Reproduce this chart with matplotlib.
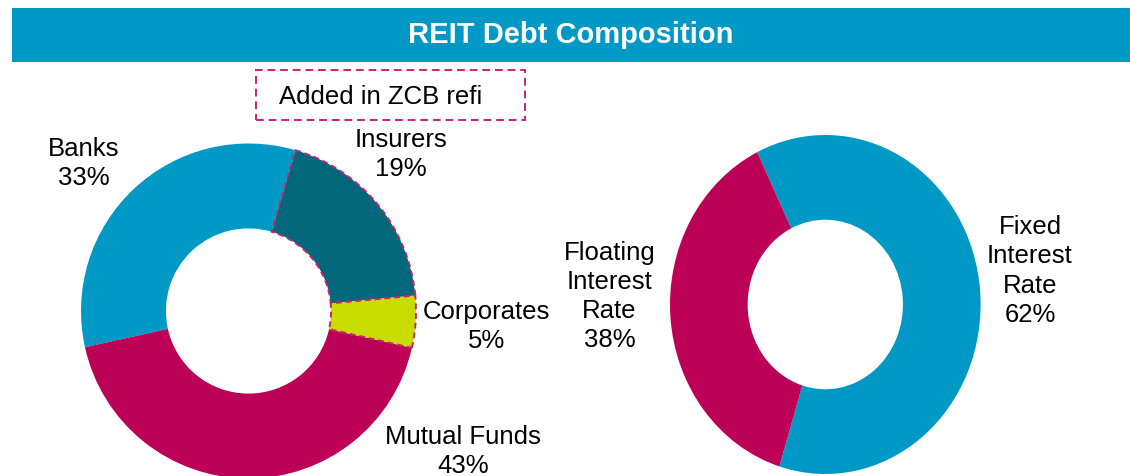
import matplotlib.pyplot as plt
from matplotlib.patches import Rectangle

plt.rcParams["font.family"] = ["Liberation Sans", "DejaVu Sans"]

W, H = 1130, 476

BLUE = "#0099c6"
MAGENTA = "#bc0058"
TEAL = "#00687a"
LIME = "#c9dc00"
DASH = "#c8246e"

title = "REIT Debt Composition"
note = "Added in ZCB refi"

lenders = ["Banks", "Insurers", "Corporates", "Mutual Funds"]
lender_share = [33, 19, 5, 43]
lender_colors = [BLUE, TEAL, LIME, MAGENTA]
lender_dashed = [False, True, True, False]
lender_label_pos = [(-0.982, 0.881), (0.910, 0.934), (1.422, -0.090), (1.281, -0.839)]

rates = ["Fixed\nInterest\nRate", "Floating\nInterest\nRate"]
rate_share = [62, 38]
rate_colors = [BLUE, MAGENTA]
rate_label_pos = [(1.318, 0.198), (-1.390, 0.046)]


def px_rect(x0, y0, x1, y1):
    # pixel box (top-left origin) -> figure fraction [l, b, w, h]
    return [x0 / W, (H - y1) / H, (x1 - x0) / W, (y1 - y0) / H]


fig = plt.figure(figsize=(W / 100, H / 100), dpi=100)

# title bar
l, b, w, h = px_rect(12, 8, W, 62)
fig.patches.append(Rectangle((l, b), w, h, transform=fig.transFigure,
                             facecolor=BLUE, edgecolor="none"))
fig.text(l + w / 2, b + h / 2, title, color="white", fontsize=21,
         fontweight="bold", ha="center", va="center")

# dashed note box
l, b, w, h = px_rect(256, 70, 525, 120)
fig.patches.append(Rectangle((l, b), w, h, transform=fig.transFigure,
                             facecolor="none", edgecolor=DASH, lw=1.4,
                             linestyle=(0, (4, 2.5))))
fig.text(381 / W, 1 - 97 / H, note, fontsize=18.5, ha="center", va="center")


def donut(rect, values, colors, start, width):
    ax = fig.add_axes(rect)
    wedges, _ = ax.pie(values, colors=colors, startangle=start,
                       counterclock=False, radius=1,
                       wedgeprops=dict(width=width, edgecolor="none"))
    ax.set_aspect("auto")
    ax.set_xlim(-1, 1)
    ax.set_ylim(-1, 1)
    ax.axis("off")
    for wg in wedges:
        wg.set_clip_on(False)
    return ax, wedges


ax1, w1 = donut(px_rect(81, 143.5, 416, 478.5), lender_share, lender_colors,
                192.5, 0.507)
for wg, dashed in zip(w1, lender_dashed):
    if dashed:
        wg.set_edgecolor(DASH)
        wg.set_linewidth(1.4)
        wg.set_linestyle((0, (3, 2)))
        wg.set_zorder(3)
for name, v, (x, y) in zip(lenders, lender_share, lender_label_pos):
    ax1.text(x, y, f"{name}\n{v}%", fontsize=18.5, ha="center", va="center",
             linespacing=1.27, clip_on=False)

ax2, w2 = donut(px_rect(670, 135, 980.6, 474), rate_share, rate_colors,
                116, 0.5)
for name, v, (x, y) in zip(rates, rate_share, rate_label_pos):
    ax2.text(x, y, f"{name}\n{v}%", fontsize=18.5, ha="center", va="center",
             linespacing=1.27, clip_on=False)

fig.savefig("out.png", dpi=100)
